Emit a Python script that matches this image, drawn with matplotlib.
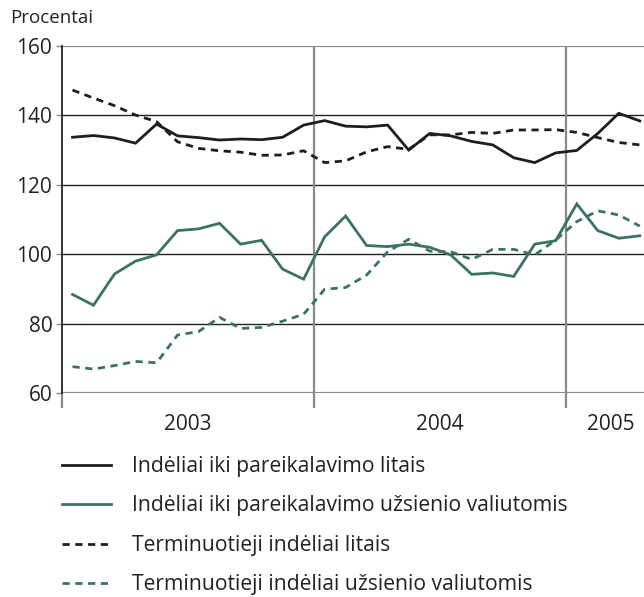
import matplotlib
matplotlib.use("Agg")
import matplotlib.pyplot as plt
from matplotlib.lines import Line2D
import numpy as np

# Monthly data, Jan 2003 - Apr 2005
months = np.arange(28)
demand_litas = [133.7, 134.2, 133.5, 132.0, 137.5, 134.1, 133.6, 132.9, 133.2, 133.0,
                133.7, 137.2, 138.5, 136.9, 136.7, 137.2, 130.0, 134.8, 134.1, 132.5,
                131.5, 127.8, 126.4, 129.2, 129.9, 134.8, 140.6, 138.4]
demand_fx = [88.4, 85.3, 94.3, 98.0, 99.8, 106.8, 107.3, 108.9, 102.9, 104.0,
             95.7, 92.8, 105.0, 111.0, 102.5, 102.2, 102.9, 102.0, 99.8, 94.2,
             94.6, 93.6, 102.9, 103.9, 114.5, 106.8, 104.6, 105.3]
time_litas = [147.3, 145.0, 142.8, 140.1, 138.2, 132.4, 130.5, 129.8, 129.4, 128.5,
              128.6, 129.8, 126.4, 126.9, 129.5, 131.0, 130.2, 134.4, 134.4, 135.1,
              134.8, 135.8, 135.8, 135.9, 135.1, 133.6, 132.2, 131.5]
time_fx = [67.6, 66.9, 67.9, 69.1, 68.7, 76.7, 77.7, 81.8, 78.6, 78.9,
           80.7, 82.7, 89.9, 90.4, 94.0, 100.7, 104.3, 100.9, 100.7, 98.5,
           101.4, 101.4, 99.8, 104.1, 109.4, 112.5, 111.3, 108.1]

series_labels = ["Indėliai iki pareikalavimo litais",
                 "Indėliai iki pareikalavimo užsienio valiutomis",
                 "Terminuotieji indėliai litais",
                 "Terminuotieji indėliai užsienio valiutomis"]
year_labels = ["2003", "2004", "2005"]
year_label_pos = [6.0, 18.0, 26.1]
year_bounds = [12, 24]
yticks = [60, 80, 100, 120, 140, 160]

plt.rcParams['font.family'] = ['Open Sans', 'DejaVu Sans']

BLACK = "#1e1e1e"
GREEN = "#3b7361"
DASH = (0, (2.6, 2.0))

fig = plt.figure(figsize=(6.44, 5.97), dpi=100)
ax = fig.add_axes([62/644, 1-393/597, 1-62/644, (393-46)/597])

x = months + 0.5
ax.plot(x, demand_litas, color=BLACK, lw=2.0, solid_joinstyle='miter')
ax.plot(x, demand_fx, color=GREEN, lw=2.0, solid_joinstyle='miter')
ax.plot(x, time_litas, color=BLACK, lw=2.0, linestyle=DASH)
ax.plot(x, time_fx, color=GREEN, lw=2.0, linestyle=DASH)

ax.set_xlim(0, 27.7)
ax.set_ylim(60, 160)

for y in yticks:
    if y in (60, 160):
        ax.axhline(y, color="#8a8a8a", lw=1.6, zorder=0.5)
    else:
        ax.axhline(y, color="#222222", lw=1.0, zorder=0.5)
for b in year_bounds:
    ax.axvline(b, color="#8a8a8a", lw=1.6, zorder=0.5)

for s in ax.spines.values():
    s.set_visible(False)
ax.spines['left'].set_visible(True)
ax.spines['left'].set_color("#111111")
ax.spines['left'].set_linewidth(1.2)

ax.set_yticks(yticks)
ax.set_yticklabels([str(v) for v in yticks], fontsize=15, color="#222222")
ax.tick_params(axis='y', length=4, width=1.0, color="#8a8a8a", pad=3)

ax.set_xticks([0] + year_bounds)
ax.set_xticklabels([])
ax.tick_params(axis='x', length=11, width=1.6, color="#8a8a8a", direction='out')
ax.set_xticks(year_label_pos, minor=True)
ax.set_xticklabels(year_labels, minor=True, fontsize=15, color="#222222")
ax.tick_params(axis='x', which='minor', length=0, pad=15)

fig.text(10/644, 1-18/597, "Procentai", fontsize=13.5, color="#222222", va='center', ha='left')

handles = [Line2D([], [], color=BLACK, lw=2.0),
           Line2D([], [], color=GREEN, lw=2.0),
           Line2D([], [], color=BLACK, lw=2.0, linestyle=DASH),
           Line2D([], [], color=GREEN, lw=2.0, linestyle=DASH)]
fig.legend(handles, series_labels, loc='upper left', bbox_to_anchor=(43/644, 1-437/597),
           frameon=False, fontsize=15.2, handlelength=2.3, handletextpad=1.0,
           labelspacing=0.875, labelcolor="#222222")

fig.savefig("out.png", dpi=100)
